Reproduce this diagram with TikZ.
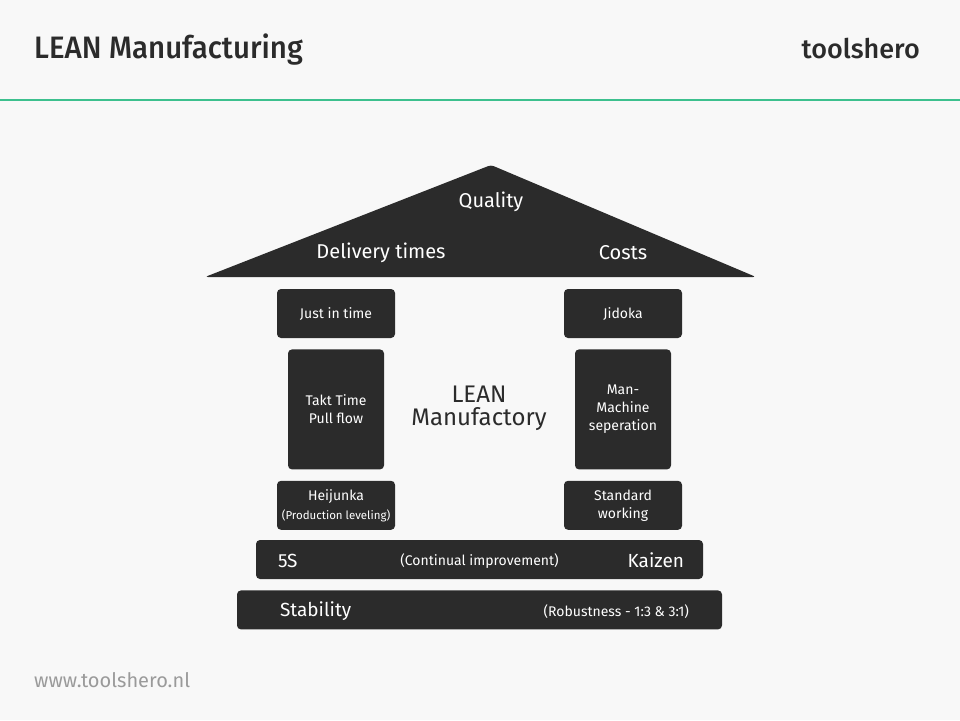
\documentclass[tikz,border=0pt]{standalone}
\usepackage{fontspec}
\setmainfont{Fira Sans}
\newfontfamily\headfont[FakeStretch=0.95]{Fira Sans Medium}
\newfontfamily\brandfont{Fira Sans Medium}
\usetikzlibrary{positioning}
\definecolor{pagebg}{HTML}{F8F8F8}
\definecolor{blockdark}{HTML}{2B2B2B}
\definecolor{rulegreen}{HTML}{3DC08E}
\definecolor{footgrey}{HTML}{9A9A9A}
\tikzset{
  block/.style={
    fill=blockdark, rounded corners=4pt, align=center, inner sep=2pt,
    text=white, font=\fontsize{14}{18}\selectfont,
  },
  pillar/.style={block, minimum width=118pt, minimum height=49pt},
  shaft/.style ={block, minimum width=96pt, minimum height=120pt},
  bar/.style   ={fill=blockdark, rounded corners=4pt, inner sep=0pt, minimum height=39pt},
  rooflbl/.style={text=white, font=\fontsize{20}{22}\selectfont, inner sep=0pt},
  barbig/.style={text=white, font=\fontsize{19}{22}\selectfont, inner sep=0pt},
  barsmall/.style={text=white, font=\fontsize{14}{16}\selectfont, inner sep=0pt},
}

\begin{document}
\begin{tikzpicture}[x=1pt, y=-1pt, node distance=11pt]

\fill[pagebg] (0,0) rectangle (960,720);
\useasboundingbox (0,0) rectangle (960,720);

% ---------------------------------------------------------------- header
\node[anchor=west, text=blockdark, font=\headfont\fontsize{31}{34}\selectfont,
      inner sep=0pt] (title) at (34,50) {LEAN Manufacturing};
\node[anchor=east, text=blockdark, font=\brandfont\fontsize{27}{30}\selectfont,
      inner sep=0pt] (brand) at (920,49) {toolshero};
\draw[rulegreen, line width=2pt] (0,100) -- (960,100);

% ---------------------------------------------------------------- roof
\coordinate (apex) at (491,165);
\coordinate (eaveL) at (205,277);
\coordinate (eaveR) at (756,277);
\fill[blockdark, rounded corners=3pt] (apex) -- (eaveR) -- (eaveL) -- cycle;
\node[rooflbl] (quality)  at (491,202) {Quality};
\node[rooflbl] (delivery) at (381,253) {Delivery times};
\node[rooflbl] (costs)    at (623,253) {Costs};

% ---------------------------------------------------------------- pillars
\node[pillar] (jit) at (336,313.5) {Just in time};
\node[shaft, below=of jit] (takt) {Takt Time\\Pull flow};
\node[pillar, below=of takt] (heijunka)
  {Heijunka\\[1pt]{\fontsize{11.5}{13}\selectfont (Production leveling)}};

\node[pillar] (jidoka) at (623,313.5) {Jidoka};
\node[shaft, below=of jidoka] (manmachine) {Man-\\Machine\\seperation};
\node[pillar, below=of manmachine] (standard) {Standard\\working};

\node[text=blockdark, align=center, font=\fontsize{24}{23}\selectfont] (core)
  at (479,408) {LEAN\\Manufactory};

% ---------------------------------------------------------------- foundation
\node[bar, minimum width=447pt] (kaizenbar) at (479.5,559.5) {};
\node[barbig, anchor=west] (fives) at ([xshift=22pt, yshift=-1pt]kaizenbar.west) {5S};
\node[barsmall] (continual) at ([yshift=-1.5pt]kaizenbar.center) {(Continual improvement)};
\node[barbig, anchor=east] (kaizen) at ([xshift=-19pt, yshift=-1pt]kaizenbar.east) {Kaizen};

\node[bar, minimum width=485pt, below=of kaizenbar] (stabbar) {};
\node[barbig, anchor=west] (stability) at ([xshift=43pt, yshift=-1pt]stabbar.west) {Stability};
\node[barsmall, anchor=east] (robust) at ([xshift=-33pt, yshift=-1.5pt]stabbar.east)
  {(Robustness - 1:3 \& 3:1)};

% ---------------------------------------------------------------- footer
\node[anchor=west, text=footgrey, font=\fontsize{20}{22}\selectfont, inner sep=0pt]
  (site) at (34,680) {www.toolshero.nl};

\end{tikzpicture}
\end{document}
